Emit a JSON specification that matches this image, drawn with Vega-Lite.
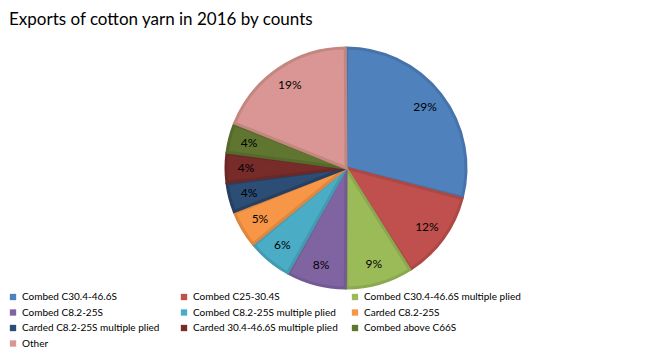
{
  "$schema": "https://vega.github.io/schema/vega-lite/v6.json",
  "width": 692,
  "height": 256,
  "autosize": {"type": "none"},
  "padding": {"left": 0, "top": 40, "right": 0, "bottom": 58},
  "background": "white",
  "title": {
    "text": "Exports of cotton yarn in 2016 by counts",
    "anchor": "start",
    "dx": 9,
    "offset": 11,
    "font": "Lato",
    "fontSize": 17,
    "fontWeight": "normal",
    "color": "#000000"
  },
  "config": {"view": {"stroke": null}},
  "data": {
    "values": [
      {"category": "Combed C30.4-46.6S", "pct": 29, "order": 1, "label": "29%"},
      {"category": "Combed C25-30.4S", "pct": 12, "order": 2, "label": "12%"},
      {"category": "Combed C30.4-46.6S multiple plied", "pct": 9, "order": 3, "label": "9%"},
      {"category": "Combed C8.2-25S", "pct": 8, "order": 4, "label": "8%"},
      {"category": "Combed C8.2-25S multiple plied", "pct": 6, "order": 5, "label": "6%"},
      {"category": "Carded C8.2-25S", "pct": 5, "order": 6, "label": "5%"},
      {"category": "Carded C8.2-25S multiple plied", "pct": 4, "order": 7, "label": "4%"},
      {"category": "Carded 30.4-46.6S multiple plied", "pct": 4, "order": 8, "label": "4%"},
      {"category": "Combed above C66S", "pct": 4, "order": 9, "label": "4%"},
      {"category": "Other", "pct": 19, "order": 10, "label": "19%"}
    ]
  },
  "encoding": {
    "theta": {"field": "pct", "type": "quantitative", "stack": true},
    "order": {"field": "order", "type": "quantitative", "sort": "ascending"}
  },
  "layer": [
    {
      "mark": {"type": "arc", "outerRadius": 120, "strokeWidth": 3, "padAngle": 0.012},
      "encoding": {
        "color": {
          "field": "category",
          "type": "nominal",
          "sort": null,
          "scale": {
            "domain": ["Combed C30.4-46.6S", "Combed C25-30.4S", "Combed C30.4-46.6S multiple plied", "Combed C8.2-25S", "Combed C8.2-25S multiple plied", "Carded C8.2-25S", "Carded C8.2-25S multiple plied", "Carded 30.4-46.6S multiple plied", "Combed above C66S", "Other"],
            "range": ["#4F81BD", "#C0504D", "#9BBB59", "#8064A2", "#4BACC6", "#F79646", "#2C4D75", "#772C2A", "#5F7530", "#D99694"]
          },
          "legend": {
            "title": null,
            "orient": "none",
            "legendX": 8,
            "legendY": 252,
            "direction": "horizontal",
            "columns": 3,
            "gridAlign": "all",
            "columnPadding": -3,
            "rowPadding": 5.5,
            "symbolType": "square",
            "symbolSize": 40,
            "symbolStrokeWidth": 0,
            "symbolOffset": 0,
            "labelFont": "Lato",
            "labelFontSize": 10,
            "labelColor": "#000000",
            "labelOffset": 4,
            "labelLimit": 300
          }
        },
        "stroke": {
          "field": "category",
          "type": "nominal",
          "sort": null,
          "legend": null,
          "scale": {
            "domain": ["Combed C30.4-46.6S", "Combed C25-30.4S", "Combed C30.4-46.6S multiple plied", "Combed C8.2-25S", "Combed C8.2-25S multiple plied", "Carded C8.2-25S", "Carded C8.2-25S multiple plied", "Carded 30.4-46.6S multiple plied", "Combed above C66S", "Other"],
            "range": ["#4673AA", "#AD4845", "#8BA850", "#735A92", "#439BB2", "#DE873F", "#273F60", "#6B2826", "#556A2B", "#C3877F"]
          }
        }
      }
    },
    {
      "mark": {"type": "text", "radius": 100, "font": "Lato", "fontSize": 12, "color": "#000000"},
      "encoding": {"text": {"field": "label", "type": "nominal"}}
    }
  ]
}
